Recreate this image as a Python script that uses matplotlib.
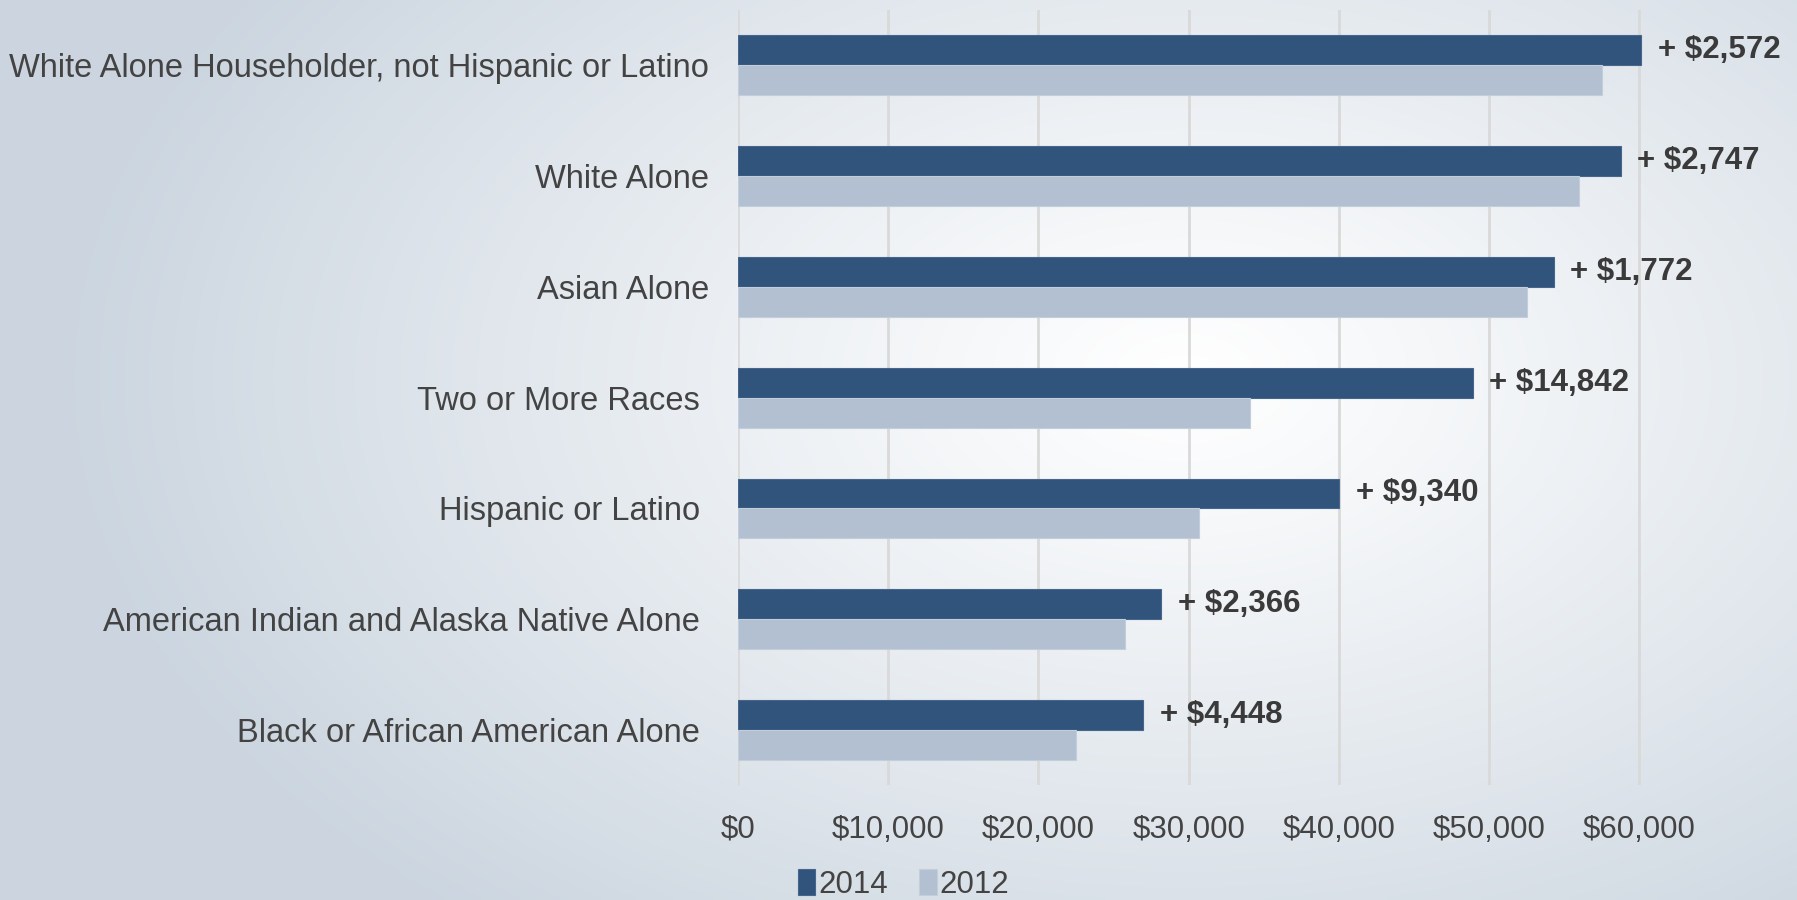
import numpy as np
import matplotlib
matplotlib.use("Agg")
import matplotlib.pyplot as plt

# данные
categories = ["White Alone Householder, not Hispanic or Latino",
              "White Alone",
              "Asian Alone",
              "Two or More Races ",
              "Hispanic or Latino ",
              "American Indian and Alaska Native Alone ",
              "Black or African American Alone "]
income_2014 = [60100, 58750, 54300, 48900, 40000, 28150, 26950]
income_2012 = [57528, 56003, 52528, 34058, 30660, 25784, 22502]
change_labels = ["+ $2,572", "+ $2,747", "+ $1,772", "+ $14,842",
                 "+ $9,340", "+ $2,366", "+ $4,448"]
xticks = [0, 10000, 20000, 30000, 40000, 50000, 60000]
xtick_labels = ["$0", "$10,000", "$20,000", "$30,000", "$40,000", "$50,000", "$60,000"]

plt.rcParams['font.family'] = ['Liberation Sans', 'DejaVu Sans']
txt_color = '#434343'

fig = plt.figure(figsize=(17.97, 9.0), dpi=100)

# фон - радиальный градиент
bg = fig.add_axes([0, 0, 1, 1], zorder=-10)
gx, gy = np.meshgrid(np.linspace(0, 1, 400), np.linspace(0, 1, 200))
d = np.sqrt(((gx - 0.66) / 0.62) ** 2 + ((gy - 0.42) / 0.78) ** 2)
d = np.clip(d, 0, 1) ** 1.1
edge = np.array([0.80, 0.839, 0.878])
img = np.ones((200, 400, 3)) * (1 - d[..., None]) + edge * d[..., None]
bg.imshow(img, aspect='auto', extent=[0, 1, 1, 0], interpolation='bilinear')
bg.set_xlim(0, 1)
bg.set_ylim(1, 0)
bg.axis('off')

ax = fig.add_axes([0.4107, 0.1273, 0.5058, 0.8617])
ax.patch.set_alpha(0)

y = np.arange(len(categories))
h = 0.27
ax.barh(y - h / 2, income_2014, height=h, color='#31547c', edgecolor='#46668c',
        linewidth=0.8, label='2014', zorder=3)
ax.barh(y + h / 2, income_2012, height=h, color='#b2c0d1', edgecolor='#c3cedb',
        linewidth=0.8, label='2012', zorder=3)

for i in range(len(categories)):
    ax.annotate(change_labels[i], (income_2014[i], y[i] - h / 2), xytext=(12, 0),
                textcoords='offset points', va='center', ha='left',
                fontsize=22.5, color='#3a3a3a', fontweight='bold')

ax.set_xlim(0, 60500)
ax.set_ylim(6.5, -0.5)
ax.set_xticks(xticks)
ax.set_xticklabels(xtick_labels)
ax.set_yticks(y)
ax.set_yticklabels(categories)
ax.tick_params(axis='x', length=0, pad=21, labelsize=22.5, labelcolor=txt_color)
ax.tick_params(axis='y', length=0, pad=21, labelsize=23.5, labelcolor=txt_color)
ax.grid(True, axis='x', color='#d9d9d9', linewidth=2.0, zorder=0)
ax.set_axisbelow(True)
for s in ax.spines.values():
    s.set_visible(False)

fig.legend(loc='center', bbox_to_anchor=(0.503, 0.017), ncol=2, frameon=False,
           fontsize=22.5, labelcolor=txt_color, handlelength=0.55, handleheight=0.9,
           handletextpad=0.1, columnspacing=1.0, borderpad=0)

plt.savefig('out.png', dpi=100)
